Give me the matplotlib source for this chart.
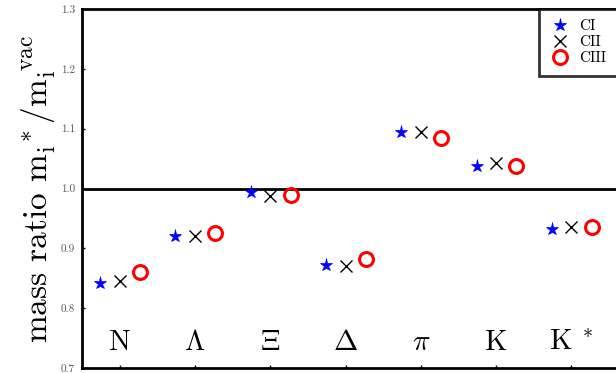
import numpy as np
import matplotlib
matplotlib.use("Agg")
import matplotlib.pyplot as plt

plt.rcParams['font.family'] = 'serif'
plt.rcParams['font.serif'] = ['cmr10', 'DejaVu Serif']
plt.rcParams['mathtext.fontset'] = 'cm'
plt.rcParams['axes.formatter.use_mathtext'] = True

# particle labels and mass ratios
particles = [r'$\mathrm{N}$', r'$\Lambda$', r'$\Xi$', r'$\Delta$', r'$\pi$', r'$\mathrm{K}$', r'$\mathrm{K}^{\ *}$']
ci = [0.843, 0.921, 0.995, 0.873, 1.095, 1.038, 0.933]
cii = [0.846, 0.920, 0.988, 0.871, 1.094, 1.042, 0.935]
ciii = [0.860, 0.926, 0.990, 0.883, 1.084, 1.038, 0.936]

x = np.arange(1, len(particles) + 1)

fig = plt.figure(figsize=(6.16, 3.73), dpi=100)
ax = fig.add_axes([0.133, 0.013, 0.868, 0.963])

ax.axhline(1.0, color='k', lw=2)
ax.plot(x - 0.26, ci, '*', color='blue', ms=9.5, mec='blue', mew=0.5, label='CI', ls='none')
ax.plot(x, cii, 'x', color='k', ms=9, mew=1.0, label='CII', ls='none')
ax.plot(x + 0.27, ciii, 'o', mfc='none', mec='red', mew=2.2, ms=10, label='CIII', ls='none')

for xi, name in zip(x, particles):
    ax.text(xi, 0.743, name, ha='center', va='center', fontsize=21)

ax.set_xlim(0.5, 7.6)
ax.set_ylim(0.7, 1.3)
ax.set_xticks(x)
ax.set_xticklabels([])
ax.set_yticks(np.arange(0.7, 1.31, 0.1))
ax.set_yticklabels(['%.1f' % v for v in np.arange(0.7, 1.31, 0.1)], fontsize=8, color='#555555')
ax.tick_params(direction='in', length=2, width=1, pad=5)
for s in ax.spines.values():
    s.set_linewidth(2)

ax.set_ylabel(r'mass ratio $\mathrm{m_i^{\ *}/m_i^{\ vac}}$', fontsize=24, labelpad=2)

leg = ax.legend(loc='upper right', fontsize=11, frameon=True, fancybox=False,
                borderaxespad=0, handlelength=1.3, handletextpad=0.6, labelspacing=0.15,
                borderpad=0.7)
leg.get_frame().set_edgecolor('k')
leg.get_frame().set_linewidth(2)

fig.savefig('out.png', dpi=100)
